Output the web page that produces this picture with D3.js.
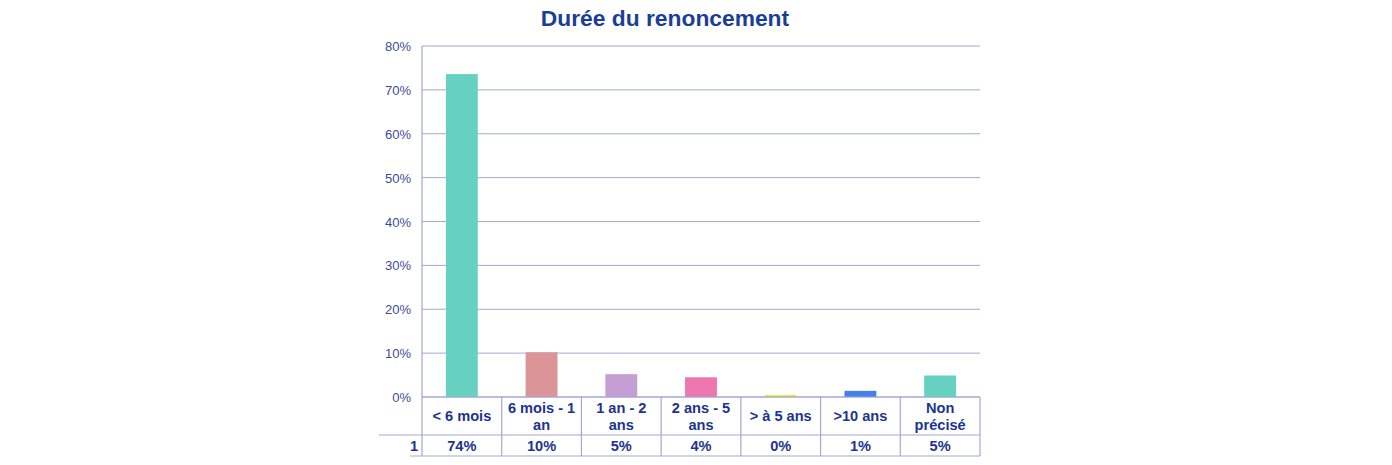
<!DOCTYPE html>
<html><head><meta charset="utf-8">
<script src="https://cdn.jsdelivr.net/npm/d3@7"></script>
<style>body{margin:0;background:#fff;} svg{display:block;font-family:"Liberation Sans",Arial,sans-serif;}</style>
</head><body><svg id="c" width="1392" height="465"></svg>
<script>
const title = "Durée du renoncement";
const categories = ["< 6 mois", "6 mois - 1\nan", "1 an - 2\nans", "2 ans - 5\nans", "> à 5 ans", ">10 ans", "Non\nprécisé"];
const values = [73.6, 10.2, 5.2, 4.5, 0.4, 1.4, 4.9];
const valueLabels = ["74%", "10%", "5%", "4%", "0%", "1%", "5%"];
const seriesName = "1";
const colors = ["#66d1c1", "#db9598", "#c59fd4", "#ee77b0", "#e2e21a", "#4281e8", "#66d1c1"];
const yTicks = [0, 10, 20, 30, 40, 50, 60, 70, 80];

const svg = d3.select("#c");
const L = 422, R = 980, T = 46, B = 397;
const x = d3.scaleBand().domain(d3.range(categories.length)).range([L, R]).paddingInner(0.6).paddingOuter(0.3);
const xc = d3.scaleBand().domain(d3.range(categories.length)).range([L, R]);
const y = d3.scaleLinear().domain([0, 80]).range([B, T]);
const grid = "#a3a7d2", txt = "#1c3490", tick = "#3b4c9c";

svg.append("text").attr("x", 665).attr("y", 26).attr("text-anchor", "middle")
  .attr("font-size", 22.8).attr("font-weight", "bold").attr("fill", "#1a3e98").text(title);

svg.append("g").selectAll("line").data(yTicks).join("line")
  .attr("x1", L).attr("x2", R).attr("y1", d => y(d)).attr("y2", d => y(d))
  .attr("stroke", grid).attr("stroke-width", 1);
svg.append("g").selectAll("text").data(yTicks).join("text")
  .attr("x", 411).attr("y", d => y(d) + 5).attr("text-anchor", "end")
  .attr("font-size", 13).attr("fill", tick).text(d => d + "%");

svg.append("g").selectAll("rect").data(values).join("rect")
  .attr("x", (d, i) => x(i)).attr("width", x.bandwidth())
  .attr("y", d => y(d)).attr("height", d => B - y(d))
  .attr("fill", (d, i) => colors[i]);

const tg = svg.append("g").attr("stroke", grid).attr("stroke-width", 1.2);
tg.append("line").attr("x1", L).attr("x2", L).attr("y1", T).attr("y2", 456);
tg.append("line").attr("x1", L).attr("x2", R).attr("y1", B).attr("y2", B);
tg.append("line").attr("x1", 379).attr("x2", R).attr("y1", 435).attr("y2", 435);
tg.append("line").attr("x1", 410).attr("x2", R).attr("y1", 456).attr("y2", 456);
tg.selectAll("line.v").data(d3.range(1, categories.length + 1)).join("line").attr("class", "v")
  .attr("x1", i => i < categories.length ? xc(i) : R).attr("x2", i => i < categories.length ? xc(i) : R)
  .attr("y1", B).attr("y2", 456);

const cl = svg.append("g").selectAll("text").data(categories).join("text")
  .attr("text-anchor", "middle").attr("font-size", 14.6).attr("font-weight", "bold").attr("fill", txt);
cl.each(function(d, i) {
  const lines = d.split("\n");
  const cx = xc(i) + xc.bandwidth() / 2;
  const startY = lines.length === 1 ? 421 : 413;
  lines.forEach((ln, k) => d3.select(this).append("tspan").attr("x", cx).attr("y", startY + k * 17).text(ln));
});
svg.append("g").selectAll("text").data(valueLabels).join("text")
  .attr("x", (d, i) => xc(i) + xc.bandwidth() / 2).attr("y", 451)
  .attr("text-anchor", "middle").attr("font-size", 14.6).attr("font-weight", "bold").attr("fill", txt).text(d => d);
svg.append("text").attr("x", 418).attr("y", 451).attr("text-anchor", "end")
  .attr("font-size", 14.6).attr("font-weight", "bold").attr("fill", txt).text(seriesName);
</script></body></html>
